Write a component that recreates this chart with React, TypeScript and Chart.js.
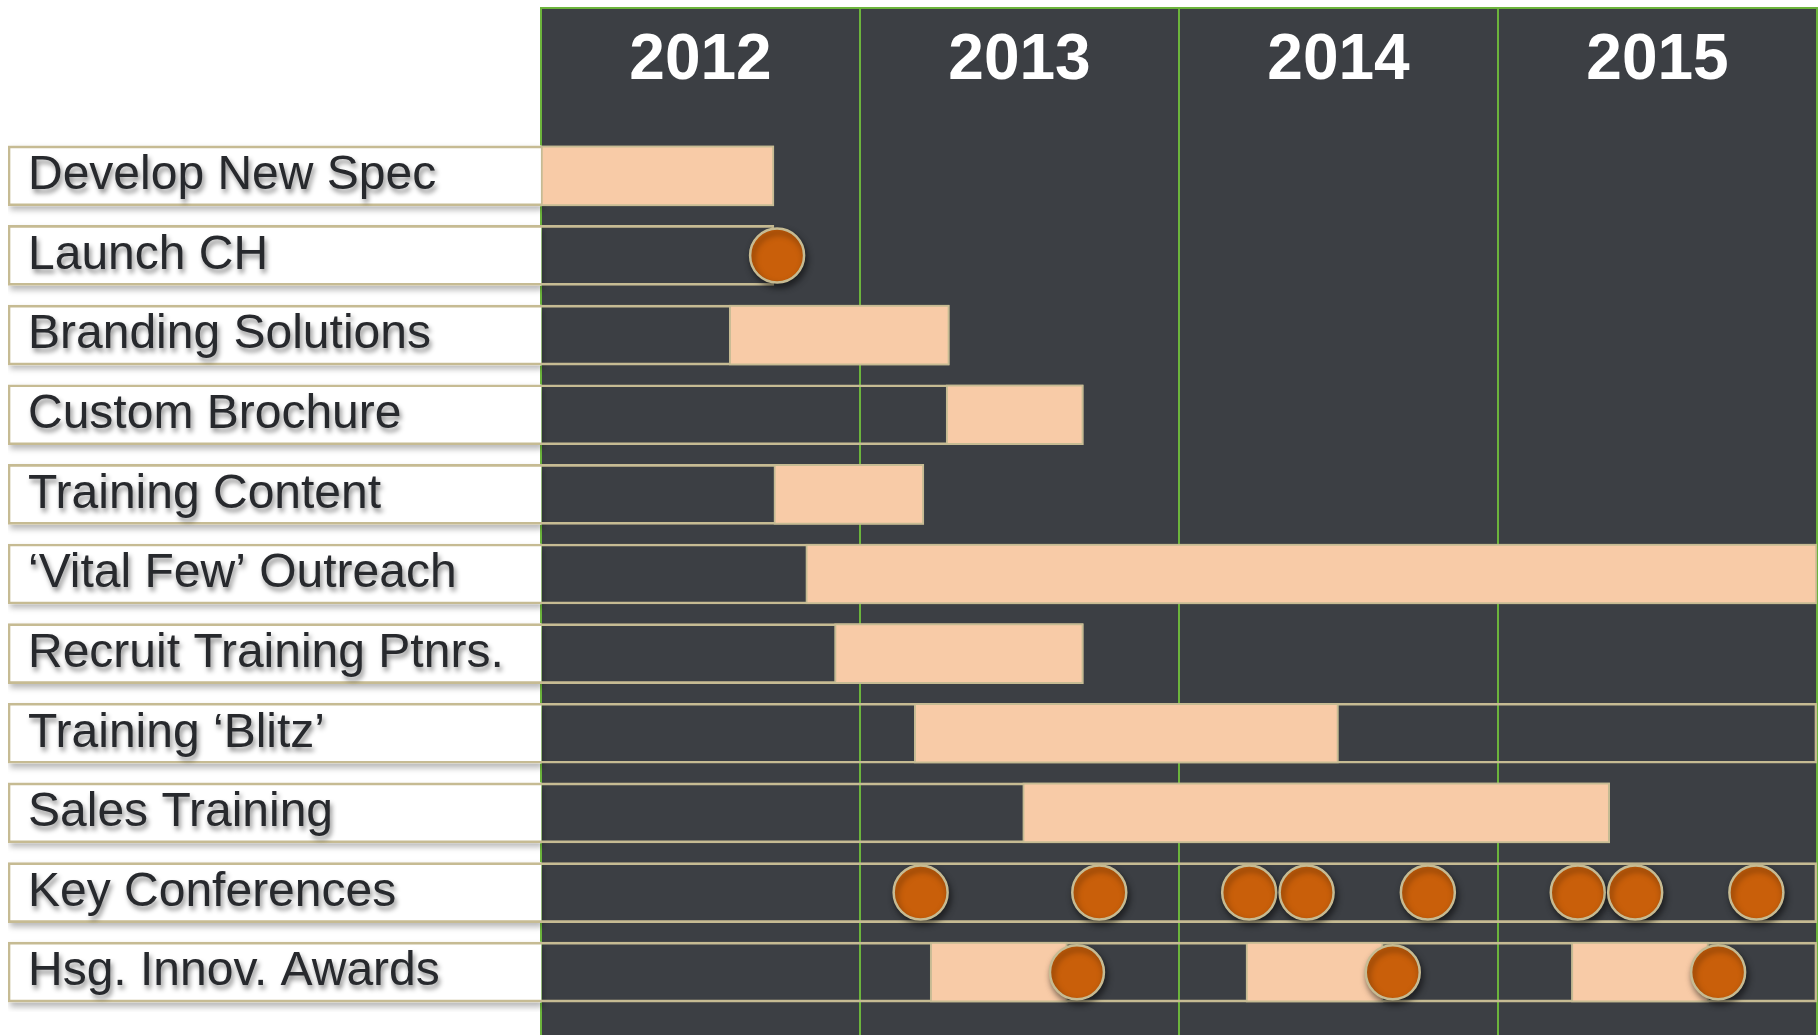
import { useEffect, useRef } from 'react';
import { Chart, registerables } from 'chart.js';

Chart.register(...registerables);

// ---------- data ----------
const TASKS = [
  'Develop New Spec',
  'Launch CH',
  'Branding Solutions',
  'Custom Brochure',
  'Training Content',
  '\u2018Vital Few\u2019 Outreach',
  'Recruit Training Ptnrs.',
  'Training \u2018Blitz\u2019',
  'Sales Training',
  'Key Conferences',
  'Hsg. Innov. Awards',
];
const YEARS = ['2012', '2013', '2014', '2015'];
const TIMELINE_START = 2012;
const TIMELINE_END = 2016;

// how far each row's frame reaches into the timeline
const ROW_END = [2012.73, 2012.73, 2013.28, 2013.7, 2013.2, 2016.0, 2013.7, 2016.0, 2015.35, 2016.0, 2016.0];
// main task bars (null = no bar in that row)
const TASK_START = [2012.0, null, 2012.59, 2013.27, 2012.73, 2012.83, 2012.92, 2013.17, 2013.51, null, null];
const TASK_END = [2012.73, null, 2013.28, 2013.7, 2013.2, 2016.0, 2013.7, 2014.5, 2015.35, null, null];
// milestones
const LAUNCH_DATES = [2012.74];
const CONFERENCE_DATES = [2013.19, 2013.75, 2014.22, 2014.4, 2014.78, 2015.25, 2015.43, 2015.81];
// award cycles: preparation bar + award date
const AWARD_START = [2013.22, 2014.21, 2015.23];
const AWARD_END = [2013.65, 2014.64, 2015.66];
const AWARD_DATES = [2013.68, 2014.67, 2015.69];

// ---------- style ----------
const PANEL = '#3c3f44';
const GREEN = '#6cb43c';
const TAN = '#c6bb93';
const PEACH = '#f8cba7';
const ORANGE = '#c95f0a';
const LABEL_COLOR = '#27292d';
const FONT = "'Liberation Sans', Arial, Helvetica, sans-serif";
const LABEL_SPAN = 1.671; // width of label column, in timeline units
const X_MIN = TIMELINE_START - LABEL_SPAN;
const PANEL_TOP = 7;
const ROW_H = 60;

const panelPlugin = {
  id: 'panel',
  beforeDraw(chart: any) {
    const { ctx } = chart;
    const x = chart.scales.x;
    const left = x.getPixelForValue(TIMELINE_START);
    const right = x.getPixelForValue(TIMELINE_END);
    ctx.save();
    ctx.fillStyle = PANEL;
    ctx.fillRect(left, PANEL_TOP, right - left, chart.height - PANEL_TOP);
    ctx.strokeStyle = GREEN;
    ctx.lineWidth = 2;
    ctx.beginPath();
    [...YEARS.map(Number), TIMELINE_END].forEach((v) => {
      const px = Math.round(x.getPixelForValue(v));
      ctx.moveTo(px, PANEL_TOP);
      ctx.lineTo(px, chart.height);
    });
    ctx.moveTo(left, PANEL_TOP + 1);
    ctx.lineTo(right, PANEL_TOP + 1);
    ctx.stroke();
    ctx.restore();
  },
  beforeDatasetDraw(chart: any, args: any) {
    const ds = chart.data.datasets[args.index];
    if (ds.shadowColor) {
      const ctx = chart.ctx;
      ctx.save();
      ctx.shadowColor = ds.shadowColor;
      ctx.shadowBlur = 6;
      ctx.shadowOffsetX = 2;
      ctx.shadowOffsetY = 4;
    }
  },
  afterDatasetDraw(chart: any, args: any) {
    const ds = chart.data.datasets[args.index];
    if (ds.shadowColor) chart.ctx.restore();
  },
  afterDatasetsDraw(chart: any) {
    // soft shadow for the row labels drawn after the datasets
    const ctx = chart.ctx;
    ctx.save();
    ctx.shadowColor = 'rgba(0,0,0,0.45)';
    ctx.shadowBlur = 5;
    ctx.shadowOffsetX = 2;
    ctx.shadowOffsetY = 4;
  },
  afterDraw(chart: any) {
    chart.ctx.restore();
  },
};

export default function App() {
  const ref = useRef<HTMLCanvasElement>(null);

  useEffect(() => {
    const barBase = {
      type: 'bar' as const,
      barThickness: ROW_H,
      grouped: false,
      borderSkipped: false,
    };
    const awardRow = TASKS.length - 1;
    const milestones = [
      ...LAUNCH_DATES.map((x) => ({ x, y: TASKS[1] })),
      ...CONFERENCE_DATES.map((x) => ({ x, y: TASKS[9] })),
      ...AWARD_DATES.map((x) => ({ x, y: TASKS[awardRow] })),
    ];

    const datasets: any[] = [
      {
        ...barBase,
        label: 'labelBox',
        data: TASKS.map(() => [X_MIN, TIMELINE_START]),
        backgroundColor: '#ffffff',
        borderWidth: 0,
        shadowColor: 'rgba(0,0,0,0.28)',
        order: 5,
      },
      {
        ...barBase,
        label: 'frame',
        data: ROW_END.map((e) => [X_MIN, e]),
        backgroundColor: 'rgba(0,0,0,0)',
        borderColor: TAN,
        borderWidth: 2,
        order: 4,
      },
      {
        ...barBase,
        label: 'tasks',
        data: TASKS.map((_, i) => (TASK_START[i] == null ? null : [TASK_START[i], TASK_END[i]])),
        backgroundColor: PEACH,
        borderColor: TAN,
        borderWidth: 2,
        order: 3,
      },
      ...AWARD_START.map((s, k) => ({
        ...barBase,
        label: 'award' + k,
        data: TASKS.map((_, i) => (i === awardRow ? [s, AWARD_END[k]] : null)),
        backgroundColor: PEACH,
        borderColor: TAN,
        borderWidth: 2,
        order: 3,
      })),
      {
        type: 'scatter' as const,
        label: 'milestones',
        data: milestones,
        pointRadius: 27,
        pointHoverRadius: 27,
        pointBackgroundColor: ORANGE,
        pointBorderColor: TAN,
        pointBorderWidth: 2.5,
        shadowColor: 'rgba(0,0,0,0.5)',
        order: 1,
      },
    ];

    const chart = new Chart(ref.current as HTMLCanvasElement, {
      type: 'bar',
      data: { labels: TASKS, datasets },
      plugins: [panelPlugin],
      options: {
        animation: false,
        responsive: true,
        maintainAspectRatio: false,
        indexAxis: 'y',
        layout: { autoPadding: false, padding: { top: 8, left: 8, right: 2, bottom: 23 } },
        plugins: {
          legend: { display: false },
          tooltip: { enabled: false },
        },
        events: [],
        scales: {
          x: {
            type: 'linear',
            position: 'top',
            min: X_MIN,
            max: TIMELINE_END,
            offset: false,
            beginAtZero: false,
            grid: { display: false, drawTicks: false },
            border: { display: false },
            afterBuildTicks: (scale: any) => {
              scale.ticks = YEARS.map((y) => ({ value: Number(y) + 0.5 }));
            },
            afterFit: (scale: any) => {
              scale.height = 128;
              scale.paddingLeft = 0;
              scale.paddingRight = 0;
            },
            ticks: {
              autoSkip: false,
              maxRotation: 0,
              padding: 36,
              color: '#ffffff',
              font: { family: FONT, size: 64, weight: 'bold' },
              callback: (_v: any, i: number) => YEARS[i],
            },
          },
          y: {
            type: 'category',
            labels: TASKS,
            position: 'left',
            offset: true,
            grid: { display: false, drawTicks: false },
            border: { display: false },
            afterFit: (scale: any) => {
              scale.width = 0;
              scale.paddingTop = 0;
              scale.paddingBottom = 0;
            },
            ticks: {
              mirror: true,
              padding: 20,
              z: 1,
              autoSkip: false,
              color: LABEL_COLOR,
              font: { family: FONT, size: 48 },
            },
          },
        },
      } as any,
    });
    return () => chart.destroy();
  }, []);

  return (
    <div style={{ position: 'absolute', left: 0, top: 0, width: 1819, height: 1035, background: '#ffffff' }}>
      <canvas ref={ref} />
    </div>
  );
}
